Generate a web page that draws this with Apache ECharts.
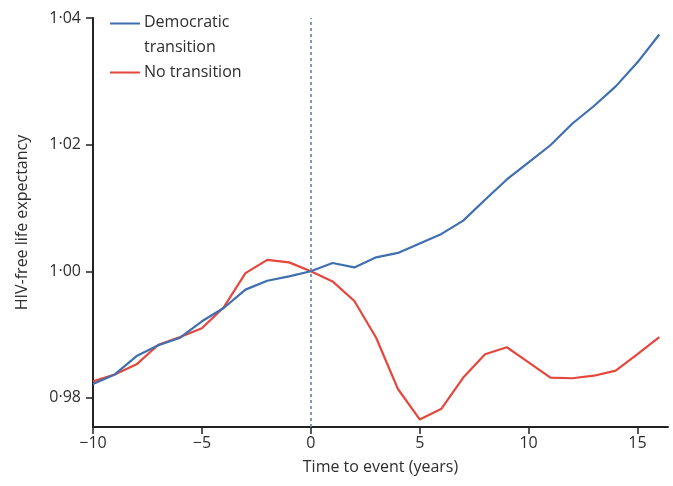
<!DOCTYPE html>
<html>
<head>
<meta charset="utf-8">
<script src="https://cdn.jsdelivr.net/npm/echarts@6/dist/echarts.min.js"></script>
<style>
html,body{margin:0;padding:0;background:#fff;}
#c{width:673px;height:486px;}
</style>
</head>
<body>
<div id="c"></div>
<script>
var years = [-10,-9,-8,-7,-6,-5,-4,-3,-2,-1,0,1,2,3,4,5,6,7,8,9,10,11,12,13,14,15,16];
var democratic = [0.9822,0.9837,0.9866,0.9883,0.9895,0.9921,0.9942,0.9971,0.9985,0.9992,1.0000,1.0013,1.0006,1.0022,1.0029,1.0044,1.0059,1.0080,1.0113,1.0145,1.0172,1.0199,1.0233,1.0261,1.0292,1.0330,1.0374];
var noTransition = [0.9826,0.9837,0.9853,0.9884,0.9896,0.9910,0.9943,0.9997,1.0018,1.0014,1.0000,0.9984,0.9953,0.9895,0.9814,0.9766,0.9783,0.9832,0.9869,0.9880,0.9856,0.9832,0.9831,0.9835,0.9843,0.9869,0.9896];
var xTicks = [-10,-5,0,5,10,15];
var yTicks = [0.98,1.00,1.02,1.04];
var seriesNames = ['Democratic transition','No transition'];

function pairs(ys){ return years.map(function(x,i){ return [x, ys[i]]; }); }

var font = '"Open Sans", "Noto Sans", sans-serif';
var chart = echarts.init(document.getElementById('c'));
chart.setOption({
  animation: false,
  grid: {left: 93, right: 5, top: 18, bottom: 59, containLabel: false},
  legend: {
    orient: 'vertical',
    left: 105,
    top: 5,
    itemGap: 0,
    itemWidth: 32,
    itemHeight: 25,
    data: [
      {name: seriesNames[0], icon: 'path://M0,0H30V2H0Z M0,25H0.05V25.05H0Z'},
      {name: seriesNames[1], icon: 'path://M0,0H0.05V0.05H0Z M0,11.5H30V13.5H0Z M0,25H0.05V25.05H0Z'}
    ],
    formatter: function(n){ return n === seriesNames[0] ? 'Democratic\ntransition' : n; },
    textStyle: {fontFamily: font, fontSize: 16, color: '#2e2e2e', lineHeight: 25, padding: [0,0,0,-2]}
  },
  xAxis: {
    type: 'value',
    min: -10, max: 16.4,
    name: 'Time to event (years)',
    nameLocation: 'middle',
    nameGap: 32,
    nameTextStyle: {fontFamily: font, fontSize: 16, color: '#2e2e2e'},
    axisLine: {show: true, onZero: false, lineStyle: {color: '#222', width: 2}},
    axisTick: {show: true, length: 7, customValues: xTicks, lineStyle: {color: '#222', width: 1.5}},
    axisLabel: {customValues: xTicks, margin: 8, fontFamily: font, fontSize: 16, color: '#2e2e2e',
      formatter: function(v){ return String(v).replace('-', '\u2212'); }},
    splitLine: {show: false}
  },
  yAxis: {
    type: 'value',
    min: 0.9754, max: 1.04,
    name: 'HIV-free life expectancy',
    nameLocation: 'middle',
    nameGap: 63,
    nameRotate: 90,
    nameTextStyle: {fontFamily: font, fontSize: 16, color: '#2e2e2e'},
    axisLine: {show: true, onZero: false, lineStyle: {color: '#222', width: 2}},
    axisTick: {show: true, length: 7, customValues: yTicks, lineStyle: {color: '#222', width: 1.5}},
    axisLabel: {customValues: yTicks, margin: 12, fontFamily: font, fontSize: 16, color: '#2e2e2e',
      formatter: function(v){ return v.toFixed(2).replace('.', '\u00b7'); }},
    splitLine: {show: false}
  },
  series: [
    {
      name: seriesNames[0], type: 'line', data: pairs(democratic),
      symbol: 'none', lineStyle: {color: '#3f6fb0', width: 2.2}, itemStyle: {color: '#3f6fb0'},
      z: 3,
      markLine: {
        silent: true, symbol: 'none', label: {show: false},
        lineStyle: {color: '#6d8fb3', type: [3, 3], width: 1.8},
        data: [{xAxis: 0}]
      }
    },
    {
      name: seriesNames[1], type: 'line', data: pairs(noTransition),
      symbol: 'none', lineStyle: {color: '#e5473d', width: 2.2}, itemStyle: {color: '#e5473d'},
      z: 2
    }
  ]
});
</script>
</body>
</html>
